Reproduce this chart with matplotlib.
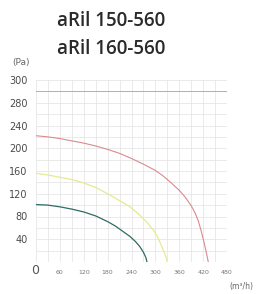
import numpy as np
import matplotlib
matplotlib.use('Agg')
import matplotlib.pyplot as plt

# curve data (m3/h, Pa)
red_x = [0, 30, 60, 90, 120, 150, 180, 210, 240, 270, 300, 320, 340, 360, 375, 390, 400, 408, 415, 421, 427, 433]
red_y = [222, 220, 217, 213, 209, 204, 198, 191, 182, 172, 161, 151, 139, 126, 114, 99, 86, 72, 55, 38, 20, 0]
yel_x = [0, 30, 60, 90, 120, 150, 180, 210, 236, 260, 280, 295, 305, 312, 320, 326, 330]
yel_y = [156, 153, 149, 145, 139, 131, 120, 108, 97, 83, 69, 56, 45, 34, 21, 10, 0]
teal_x = [0, 30, 60, 90, 120, 150, 180, 200, 220, 236, 250, 261, 270, 276, 279]
teal_y = [101, 100, 97, 93, 88, 81, 71, 63, 53, 45, 36, 27, 17, 8, 0]

y_ticks = [40, 80, 120, 160, 200, 240, 280, 320]
y_labels = ['40', '80', '120', '160', '200', '240', '280', '300']
x_ticks = [60, 120, 180, 240, 300, 360, 420, 480]
x_labels = ['60', '120', '180', '240', '300', '360', '420', '480']
titles = ['aRil 150-560', 'aRil 160-560']

fig = plt.figure(figsize=(2.61, 2.94), dpi=100)
ax = fig.add_axes([36/261, 1-262/294, 191/261, 182/294])

ax.set_xlim(0, 480)
ax.set_ylim(0, 320)

# grid
for gx in np.arange(0, 481, 30):
    ax.axvline(gx, color='#e2e2e2', lw=0.5, zorder=0)
for gy in np.arange(0, 321, 20):
    ax.axhline(gy, color='#e2e2e2', lw=0.5, zorder=0)
ax.axhline(300, color='#b0b0b0', lw=0.7, zorder=1)

ax.plot(red_x, red_y, color='#d98a90', lw=0.8)
ax.plot(yel_x, yel_y, color='#e6ea90', lw=0.9)
ax.plot(teal_x, teal_y, color='#2e6b62', lw=0.9)

for s in ax.spines.values():
    s.set_visible(False)

ax.set_yticks(y_ticks)
ax.set_yticklabels(y_labels)
ax.set_xticks(x_ticks)
ax.set_xticklabels(x_labels)
ax.tick_params(axis='y', length=0, pad=6, labelsize=7, labelcolor='#4a4a4a')
ax.tick_params(axis='x', length=0, pad=6, labelsize=4.5, labelcolor='#777777')

fig.text(35/261, 1-270/294, '0', fontsize=9, color='#555555', ha='center', va='center')
fig.text(12/261, 1-62/294, '(Pa)', fontsize=6.5, color='#666666', ha='left', va='center')
fig.text(253/261, 1-286/294, '(m\u00b3/h)', fontsize=5.5, color='#666666', ha='right', va='center')

fig.text(57/261, 1-21/294, titles[0], fontsize=13.5, color='#2a2a2a', ha='left', va='center',
         family=['Open Sans', 'DejaVu Sans'], fontweight='semibold')
fig.text(57/261, 1-49/294, titles[1], fontsize=13.5, color='#2a2a2a', ha='left', va='center',
         family=['Open Sans', 'DejaVu Sans'], fontweight='semibold')

fig.savefig('out.png', dpi=100)
